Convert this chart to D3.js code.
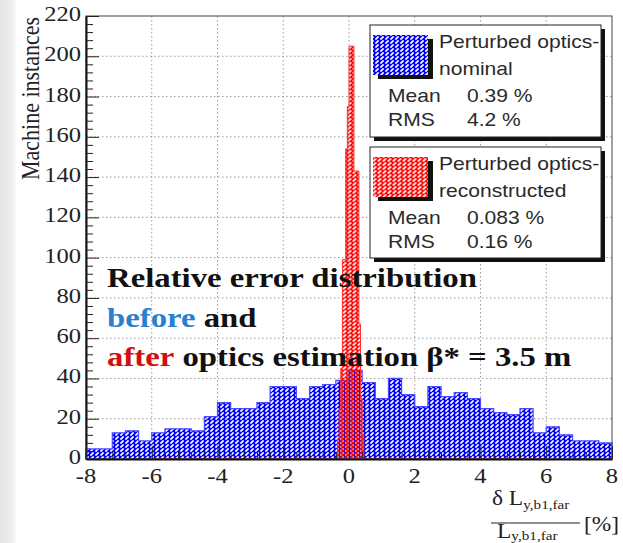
<!DOCTYPE html>
<html>
<head>
<meta charset="utf-8">
<script src="https://cdn.jsdelivr.net/npm/d3@7"></script>
<style>
  html, body { margin: 0; padding: 0; background: #fff; }
  svg { display: block; }
</style>
</head>
<body>
<svg id="chart" width="623" height="543"></svg>
<script>
// Histogram of relative error (%) across machine instances
const xDomain = [-8, 8];
const yDomain = [0, 220];
const xMajorTicks = [-8, -6, -4, -2, 0, 2, 4, 6, 8];
const yMajorTicks = [0, 20, 40, 60, 80, 100, 120, 140, 160, 180, 200, 220];

// "nominal" histogram: 40 bins of 0.4 % from -8 to 8
const blueBinWidth = 0.4;
const blueBinStart = -8;
const blueCounts = [5, 5, 13, 14, 9, 13, 15, 15, 14, 21,
                    28, 25, 25, 28, 36, 36, 30, 36, 37, 39,
                    44, 38, 30, 40, 32, 26, 36, 31, 33, 30,
                    25, 23, 22, 25, 13, 16, 12, 9, 9, 8];

// "reconstructed" histogram: narrow bins around zero, empty over the rest of [-6, 6]
const redRange = [-6, 6];
const redBinWidth = 0.05;
const redBinStart = -0.35;
const redCounts = [10, 25, 45, 99, 99, 154, 175, 205, 205, 205, 143, 143, 143, 67, 30, 12];

const legendEntries = [
  { lines: ["Perturbed optics-", "nominal"], mean: "0.39 %", rms: "4.2 %", pattern: "hatchBlue" },
  { lines: ["Perturbed optics-", "reconstructed"], mean: "0.083 %", rms: "0.16 %", pattern: "hatchRed" }
];

const SX = 1.17; // horizontal glyph stretch
const serif = "'Liberation Serif', 'Times New Roman', serif";
const sans = "'Liberation Sans', Arial, sans-serif";

const svg = d3.select("#chart");
const defs = svg.append("defs");

// page edge shading on the left
const grad = defs.append("linearGradient").attr("id", "edge").attr("x1", 0).attr("x2", 1);
grad.append("stop").attr("offset", 0).attr("stop-color", "#e4e4e4");
grad.append("stop").attr("offset", 0.8).attr("stop-color", "#efefef");
grad.append("stop").attr("offset", 1).attr("stop-color", "#fafafa");
svg.append("rect").attr("x", 0).attr("y", 0).attr("width", 16).attr("height", 543).attr("fill", "url(#edge)");

// hatch fills: solid colour with small transparent diagonal dashes
function hatch(id, color, ox, oy) {
  const mid = id + "Mask";
  const m = defs.append("mask").attr("id", mid).attr("maskUnits", "userSpaceOnUse")
    .attr("x", 0).attr("y", 0).attr("width", 5).attr("height", 4);
  m.append("rect").attr("width", 5).attr("height", 4).attr("fill", "#fff");
  m.append("path").attr("d", "M0.4,3.6 L3.6,0.4").attr("stroke", "#000").attr("stroke-width", 1.7);
  const p = defs.append("pattern").attr("id", id).attr("patternUnits", "userSpaceOnUse")
    .attr("x", ox).attr("y", oy).attr("width", 5).attr("height", 4);
  p.append("rect").attr("width", 5).attr("height", 4).attr("fill", color).attr("mask", `url(#${mid})`);
}
hatch("hatchBlue", "#0000ff", 0, 0);
hatch("hatchRed", "#ff0000", 2.5, 2);

const plot = { left: 86, top: 16, right: 612, bottom: 459 };
const x = d3.scaleLinear().domain(xDomain).range([plot.left, plot.right]);
const y = d3.scaleLinear().domain(yDomain).range([plot.bottom, plot.top]);

// dotted grid
const grid = svg.append("g").attr("stroke", "#9a9a9a").attr("stroke-width", 1).attr("stroke-dasharray", "1.5,2.5");
grid.selectAll("line.v").data(xMajorTicks.slice(1, -1)).join("line")
  .attr("x1", d => x(d)).attr("x2", d => x(d)).attr("y1", plot.top).attr("y2", plot.bottom);
grid.selectAll("line.h").data(yMajorTicks.slice(1, -1)).join("line")
  .attr("y1", d => y(d)).attr("y2", d => y(d)).attr("x1", plot.left).attr("x2", plot.right);

// histograms as stepped areas
const stepArea = d3.area().x(d => x(d[0])).y0(y(0)).y1(d => y(d[1])).curve(d3.curveStepAfter);

const bluePts = blueCounts.map((c, i) => [blueBinStart + i * blueBinWidth, c]);
bluePts.push([xDomain[1], blueCounts[blueCounts.length - 1]]);
svg.append("path").datum(bluePts).attr("d", stepArea)
  .attr("fill", "url(#hatchBlue)").attr("stroke", "#4a4aff").attr("stroke-width", 1.2);

const redPts = [[redRange[0], 0]];
redCounts.forEach((c, i) => redPts.push([redBinStart + i * redBinWidth, c]));
redPts.push([redBinStart + redCounts.length * redBinWidth, 0]);
redPts.push([redRange[1], 0]);
svg.append("path").datum(redPts).attr("d", stepArea)
  .attr("fill", "url(#hatchRed)").attr("stroke", "#ff3030").attr("stroke-width", 1);

// frame
svg.append("rect").attr("x", plot.left).attr("y", plot.top)
  .attr("width", plot.right - plot.left).attr("height", plot.bottom - plot.top)
  .attr("fill", "none").attr("stroke", "#444").attr("stroke-width", 1);

// axes: ticks point into the plot
const yMinor = d3.range(yDomain[0], yDomain[1] + 0.001, 4).filter(v => v % 20 !== 0);
const xMinor = d3.range(0, 41).map(i => xDomain[0] + i * 0.4).filter(v => Math.abs(v / 2 - Math.round(v / 2)) > 1e-6);

const yAx = svg.append("g").attr("transform", `translate(${plot.left},0)`);
yAx.call(d3.axisRight(y).tickValues(yMajorTicks).tickSize(13).tickSizeOuter(0).tickFormat(""));
yAx.append("g").call(d3.axisRight(y).tickValues(yMinor).tickSize(7).tickSizeOuter(0).tickFormat(""))
  .select(".domain").remove();
yAx.selectAll("line").attr("stroke", "#222");
yAx.select(".domain").attr("stroke", "#111").attr("stroke-width", 2);

const xAx = svg.append("g").attr("transform", `translate(0,${plot.bottom})`);
xAx.call(d3.axisTop(x).tickValues(xMajorTicks).tickSize(13).tickSizeOuter(0).tickFormat(""));
xAx.append("g").call(d3.axisTop(x).tickValues(xMinor).tickSize(7).tickSizeOuter(0).tickFormat(""))
  .select(".domain").remove();
xAx.selectAll("line").attr("stroke", "#222");
xAx.select(".domain").attr("stroke", "#111").attr("stroke-width", 2);

// stretched text helper
function label(px, py, str, opt = {}) {
  const g = svg.append("g").attr("transform", `translate(${px},${py}) scale(${opt.sx || SX},1)${opt.rot ? " rotate(" + opt.rot + ")" : ""}`);
  const t = g.append("text")
    .attr("font-family", opt.font || serif)
    .attr("font-size", opt.size || 21)
    .attr("font-weight", opt.weight || "normal")
    .attr("fill", opt.fill || "#222")
    .attr("text-anchor", opt.anchor || "start");
  if (str !== null) t.text(str);
  return t;
}

yMajorTicks.forEach(v => label(81, y(v) + 5, String(v), { anchor: "end" }));
xMajorTicks.forEach(v => label(x(v), 483, String(v), { anchor: "middle" }));

label(39, 17, "Machine instances", { rot: -90, size: 22, anchor: "end", sx: 1.15 });

// x-axis title: fraction
{
  const num = label(492, 505, null, { size: 20 });
  num.append("tspan").text("δ L");
  num.append("tspan").attr("font-size", 13).attr("dy", 4).text("y,b1,far");
  svg.append("line").attr("x1", 491).attr("x2", 580).attr("y1", 523).attr("y2", 523)
    .attr("stroke", "#222").attr("stroke-width", 1.2);
  const den = label(497, 538, null, { size: 20 });
  den.append("tspan").text("L");
  den.append("tspan").attr("font-size", 13).attr("dy", 2).text("y,b1,far");
  label(584, 531, "[%]", { size: 20 });
}

// annotation
label(107, 287, "Relative error distribution", { size: 28, weight: "bold", fill: "#111" });
{
  const t = label(107, 327, null, { size: 28, weight: "bold", fill: "#111" });
  t.append("tspan").attr("fill", "#2a7fcf").text("before");
  t.append("tspan").text(" and");
  const t2 = label(107, 366, null, { size: 28, weight: "bold", fill: "#111" });
  t2.append("tspan").attr("fill", "#d01010").text("after");
  t2.append("tspan").text(" optics estimation β* = 3.5 m");
}

// legend boxes
const boxes = [{ x: 370, y: 25, w: 231, h: 112 }, { x: 370, y: 147, w: 231, h: 111 }];
legendEntries.forEach((e, i) => {
  const b = boxes[i];
  svg.append("rect").attr("x", b.x + 4).attr("y", b.y + 4).attr("width", b.w).attr("height", b.h).attr("fill", "#111");
  svg.append("rect").attr("x", b.x).attr("y", b.y).attr("width", b.w).attr("height", b.h)
    .attr("fill", "#fff").attr("stroke", "#222").attr("stroke-width", 1);
  // swatch with shadow
  svg.append("rect").attr("x", b.x + 8).attr("y", b.y + 14).attr("width", 55).attr("height", 40).attr("fill", "#111");
  svg.append("rect").attr("x", b.x + 3).attr("y", b.y + 10).attr("width", 55).attr("height", 40)
    .attr("fill", "#fff");
  svg.append("rect").attr("x", b.x + 3).attr("y", b.y + 10).attr("width", 55).attr("height", 40)
    .attr("fill", `url(#${e.pattern})`);
  label(b.x + 69, b.y + 23, e.lines[0], { font: sans, size: 18, fill: "#2a2a2a" });
  label(b.x + 69, b.y + 50, e.lines[1], { font: sans, size: 18, fill: "#2a2a2a" });
  label(b.x + 18, b.y + 77, "Mean", { font: sans, size: 18, fill: "#2a2a2a" });
  label(b.x + 97, b.y + 77, e.mean, { font: sans, size: 18, fill: "#2a2a2a" });
  label(b.x + 18, b.y + 101, "RMS", { font: sans, size: 18, fill: "#2a2a2a" });
  label(b.x + 97, b.y + 101, e.rms, { font: sans, size: 18, fill: "#2a2a2a" });
});
</script>
</body>
</html>
